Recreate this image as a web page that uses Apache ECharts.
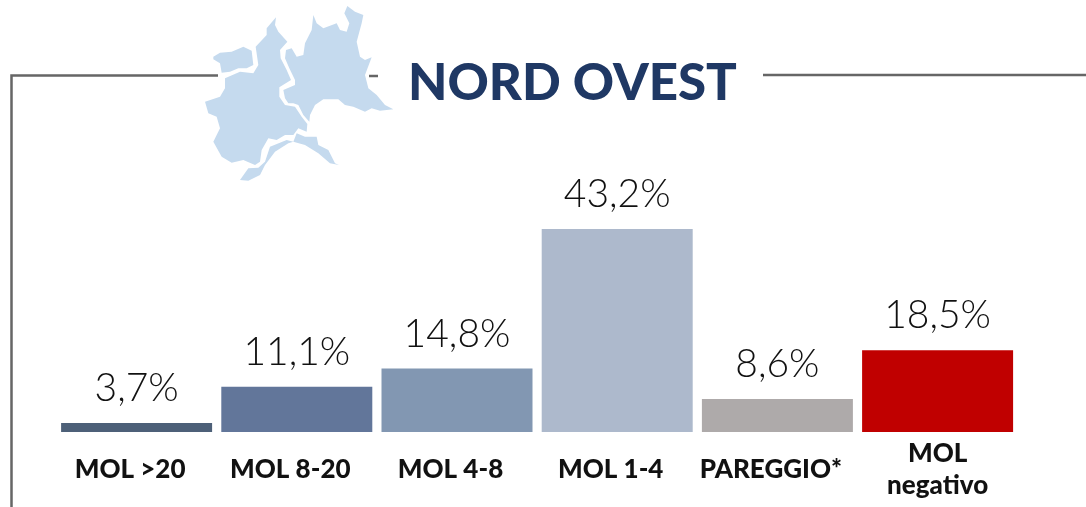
<!DOCTYPE html>
<html><head><meta charset="utf-8">
<style>html,body{margin:0;padding:0;background:#fff}#c{width:1086px;height:507px}</style>
<script src="https://cdn.jsdelivr.net/npm/echarts@6/dist/echarts.min.js"></script>
</head><body><div id="c"></div>
<script>
const categories = ['MOL >20','MOL 8-20','MOL 4-8','MOL 1-4','PAREGGIO*','MOL\nnegativo'];
const values = [3.7,11.1,14.8,43.2,8.6,18.5];
const barColors = ['#4d6078','#62769a','#8297b2','#adb9cc','#aeaaaa','#c00000'];
const titleText = 'NORD OVEST';
const FONT = 'Lato';

// region outlines (decorative map)
const mapShapes = [
 [[70,170],[90,158],[125,155],[160,140],[185,152],[190,195],[170,205],[145,205],[120,215],[95,218],[90,190],[70,178]],
 [[258,52],[255,75],[265,95],[292,125],[270,150],[272,175],[290,210],[303,240],[268,262],[268,290],[285,315],[315,320],[335,350],[352,372],[350,395],[325,385],[310,405],[285,405],[260,420],[235,415],[215,450],[210,485],[195,495],[160,480],[125,488],[95,470],[70,425],[90,385],[80,350],[55,340],[45,305],[90,290],[105,265],[105,235],[150,215],[190,220],[205,195],[197,140],[230,105],[230,85]],
 [[370,45],[380,70],[400,85],[440,70],[450,90],[470,95],[478,70],[463,40],[472,18],[495,35],[520,45],[515,70],[500,125],[510,170],[525,180],[545,172],[525,225],[535,265],[560,285],[585,315],[610,328],[570,332],[545,325],[525,335],[490,320],[465,315],[445,298],[400,298],[375,315],[360,345],[358,365],[340,345],[325,315],[310,310],[295,310],[285,295],[280,270],[315,255],[315,240],[298,205],[285,175],[288,150],[305,145],[320,170],[340,165],[345,130],[365,90]],
 [[150,540],[175,505],[205,503],[225,485],[240,440],[290,420],[310,425],[320,400],[345,410],[380,410],[385,435],[415,450],[435,490],[447,495],[420,490],[385,460],[345,435],[310,425],[295,430],[255,455],[225,495],[210,525],[175,542]]
].map(s => s.map(p => [190 + p[0] / 3, p[1] / 3]));

const chart = echarts.init(document.getElementById('c'), null, {renderer:'canvas'});
const frameLine = {stroke:'#666666', lineWidth:2.5};
chart.setOption({
  animation:false,
  backgroundColor:'#fff',
  title:{text:titleText,left:403,top:53,itemGap:0,textStyle:{fontFamily:FONT,fontWeight:900,fontSize:51,color:'#1f3864'}},
  grid:{left:56.5,width:961.2,top:229,height:203,containLabel:false},
  xAxis:{type:'category',
    data:categories.map((c,i)=> i<5 ? {value:c,textStyle:{padding:[0,13,0,0],verticalAlign:'middle'}} : c),
    axisLine:{show:false},axisTick:{show:false},
    axisLabel:{interval:0,margin:38,verticalAlign:'middle',lineHeight:32,fontFamily:FONT,fontWeight:900,fontSize:26,color:'#111'}},
  yAxis:{type:'value',min:1.87,max:43.2,show:false,splitLine:{show:false}},
  series:[{type:'bar',barWidth:151,
    data:values.map((v,i)=>({value:v,itemStyle:{color:barColors[i]}})),
    label:{show:true,position:'top',distance:15,fontFamily:FONT,fontWeight:300,fontSize:39,color:'#111',
      formatter:p=>p.value.toFixed(1).replace('.',',')+'%'}}],
  graphic:[
    {type:'polyline',z:1,silent:true,shape:{points:[[11.5,507],[11.5,75.5],[218,75.5]]},style:{...frameLine,fill:null}},
    {type:'line',z:1,silent:true,shape:{x1:369,y1:76,x2:378,y2:76},style:frameLine},
    {type:'line',z:1,silent:true,shape:{x1:763,y1:75,x2:1086,y2:75},style:frameLine},
    ...mapShapes.map(pts=>({type:'polygon',z:2,silent:true,shape:{points:pts},style:{fill:'#c5daee'}}))
  ]
});
</script></body></html>
